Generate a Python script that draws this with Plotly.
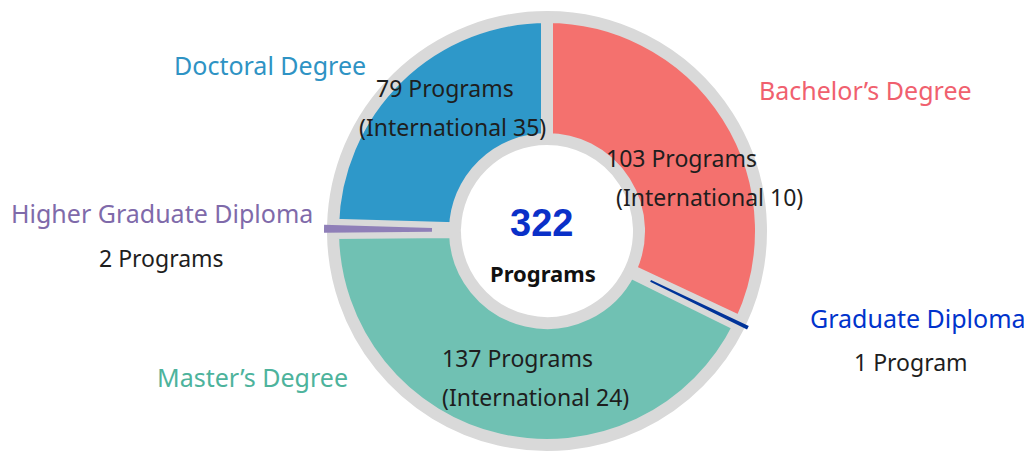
import plotly.graph_objects as go

# ---------------------------------------------------------------
# DATA
# ---------------------------------------------------------------
categories = ["Bachelor’s Degree", "Graduate Diploma", "Master’s Degree",
              "Higher Graduate Diploma", "Doctoral Degree"]
programs = [103, 1, 137, 2, 79]
international = [10, None, 24, None, 35]

slice_colors = ["#f4716e", "#003399", "#70c1b3", "#8f7fb8", "#2e98c9"]
label_colors = ["#f0606e", "#0033cc", "#4db39c", "#7f6aaa", "#2e93c4"]

W, H = 1032, 462
OFF = 8            # page body margin around the plot div
FONT = "Noto Sans"
GRAY = "#d9d9d9"
CLEAR = "rgba(0,0,0,0)"

# donut centre in page pixels
CX, CY = 547, 231
cx_f = (CX - OFF) / W
cy_f = 1 - (CY - OFF) / H


def dom(r):
    return dict(x=[2 * cx_f - 1, 1], y=[cy_f - r / H, cy_f + r / H])


small = [v <= 2 for v in programs]

# main ring: big slices with a thick gray outline, small ones left empty
ring = go.Pie(
    labels=categories,
    values=programs,
    sort=False,
    direction="clockwise",
    rotation=0,
    hole=0.43,
    textinfo="none",
    showlegend=False,
    domain=dom(214),
    marker=dict(
        colors=[CLEAR if s else c for s, c in zip(small, slice_colors)],
        line=dict(color=[CLEAR if s else GRAY for s in small],
                  width=[0 if s else 12 for s in small])))

# thin slices pulled out of the ring
slivers = go.Pie(
    labels=categories,
    values=programs,
    sort=False,
    direction="clockwise",
    rotation=0,
    hole=0.477,
    pull=[0.08 if s else 0 for s in small],
    textinfo="none",
    showlegend=False,
    domain=dom(CY - OFF),
    marker=dict(
        colors=[c if s else CLEAR for s, c in zip(small, slice_colors)],
        line=dict(width=0)))

fig = go.Figure(data=[ring, slivers])


def note(text, x, y, size, color, weight="normal", family=FONT):
    fig.add_annotation(
        text=text, x=(x - OFF) / W, y=1 - (y - OFF) / H,
        xref="paper", yref="paper",
        xanchor="center", yanchor="middle", showarrow=False,
        font=dict(family=family, size=size, color=color, weight=weight))


def count_text(n):
    return "%d Program%s" % (n, "" if n == 1 else "s")


# category names (outside)
name_pos = [(865, 90), (918, 318), (252, 377), (162, 213), (270, 65)]
for name, col, (x, y) in zip(categories, label_colors, name_pos):
    note(name, x, y, 25, col)

# program counts
count_pos = [(681, 158), (911, 362), (517, 358), (161, 258), (445, 88)]
intl_pos = [(709, 197), None, (535, 397), None, (452, 127)]
for n, intl, cp, ip in zip(programs, international, count_pos, intl_pos):
    note(count_text(n), cp[0], cp[1], 23, "#1e1e1e")
    if intl is not None:
        note("(International %d)" % intl, ip[0], ip[1], 23, "#1e1e1e")

# centre total
note(str(sum(programs)), 541, 223, 38, "#0a30c8", "bold", "Liberation Sans")
note("Programs", 543, 273, 22, "#111111", "bold")

fig.update_layout(
    width=W, height=H,
    margin=dict(l=0, r=0, t=0, b=0),
    paper_bgcolor="white",
    plot_bgcolor="white")

fig.write_html("out.html")
